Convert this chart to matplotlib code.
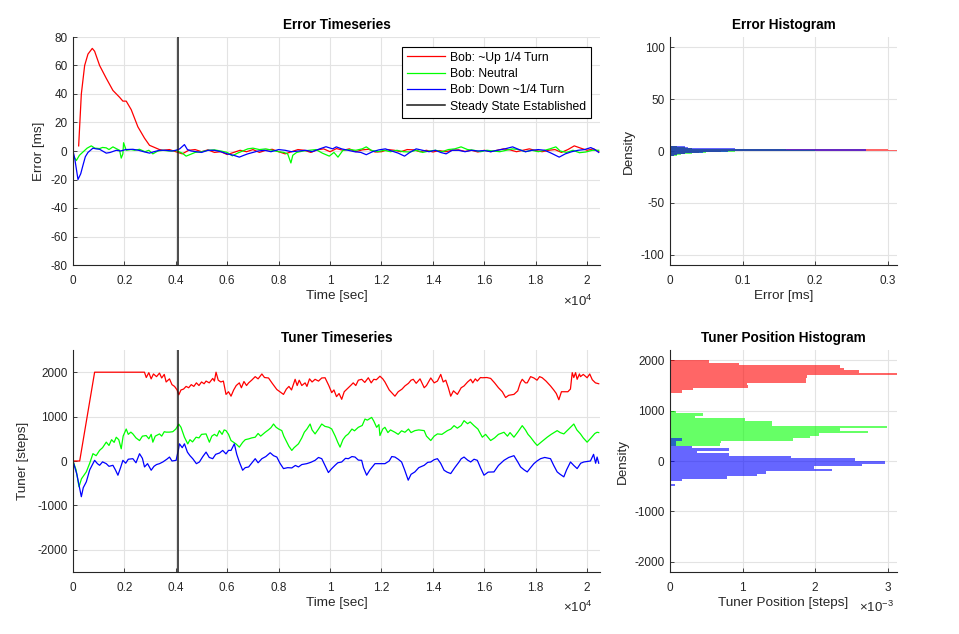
import matplotlib
matplotlib.use("Agg")
import matplotlib.pyplot as plt
import numpy as np

plt.rcParams['font.family'] = ['Liberation Sans', 'DejaVu Sans']
plt.rcParams['mathtext.fontset'] = 'custom'
plt.rcParams['mathtext.rm'] = 'Liberation Sans'
plt.rcParams['mathtext.it'] = 'Liberation Sans'
plt.rcParams['axes.unicode_minus'] = False

# ---------------- data ----------------
series_names = ["Bob: ~Up 1/4 Turn", "Bob: Neutral", "Bob: Down ~1/4 Turn"]
series_colors = ["#ff0000", "#00ff00", "#0000ff"]
steady_state_time = 4100
steady_label = "Steady State Established"

# Error timeseries (ms)
red_err_t = [220, 324, 453, 582, 750, 841, 1035, 1294, 1553, 1812, 1941, 2070, 2265, 2523, 2782, 2976, 3106, 3364,
             3500, 3750, 4000, 4250, 4500, 4750, 5000, 5250, 5500, 5750, 6000, 6250, 6500, 6750, 7000, 7250, 7500,
             7750, 8000, 8250, 8500, 8750, 9000, 9250, 9500, 9750, 10000, 10250, 10500, 10750, 11000, 11250, 11500,
             11750, 12000, 12250, 12500, 12750, 13000, 13250, 13500, 13750, 14000, 14250, 14500, 14750, 15000, 15250,
             15500, 15750, 16000, 16250, 16500, 16750, 17000, 17250, 17500, 17750, 18000, 18250, 18500, 18750, 19000,
             19250, 19500, 19750, 20000, 20250, 20450]
red_err_v = [3.6, 40, 60, 68, 72, 70, 60, 51, 42.5, 37.7, 35, 35, 29, 17, 9, 4, 3, 1,
             0.5, 1, -0.5, -2, 0.5, 1, -0.5, 0.8, -1, -0.5, -2.5, -1, 0.5, -0.5, 1, -1, 0.5,
             1.2, -0.5, -2, -0.5, 1, 0.5, -1, 0.8, 1.5, -0.5, 1.7, 0.5, 1.5, -0.5, 0.8, 1.2,
             -0.7, -0.5, 1, 0.5, -0.5, 1, 0.8, -0.5, 0.5, -0.7, 0.3, -0.5, 0.5, 0.8, -0.3,
             0.5, -0.7, 0.5, -0.5, 0.5, 1.5, 0.8, -0.5, 0.5, 1.5, 0.3, -0.5, 0.5, 1, -1,
             1, 3.6, 2, 0.5, 1.5, -0.5]

green_err_t = [0, 129, 250, 388, 550, 712, 850, 1035, 1150, 1294, 1400, 1553, 1700, 1812, 1876, 1940, 1967, 2070,
               2250, 2400, 2588, 2800, 2950, 3106, 3300, 3500, 3750, 4000, 4250, 4400, 4550, 4750, 5000, 5250, 5500,
               5750, 6000, 6200, 6400, 6600, 6800, 7000, 7250, 7500, 7750, 8000, 8200, 8350, 8476, 8550, 8700, 8950,
               9200, 9450, 9700, 9970, 10150, 10308, 10500, 10750, 11000, 11250, 11408, 11600, 11850, 12100, 12350,
               12600, 12850, 13100, 13350, 13600, 13850, 14100, 14350, 14600, 14850, 15096, 15350, 15600, 15850,
               16100, 16350, 16600, 16850, 17100, 17350, 17600, 17850, 18100, 18350, 18550, 18783, 18950, 19200,
               19450, 19700, 19950, 20200, 20450]
green_err_v = [-3, -6.7, -3, -0.7, 2, 3.6, 2, 1.7, 2.5, 2.2, 1, 2.9, 1.5, 0.5, -5, -2, 5.8, 0.5,
               1, 0.5, 1.2, -0.5, 0.5, -2, 0, 0.5, 0, 0.3, -1.5, -3.6, -2.5, -1, -0.5, 0.5, 0.8,
               0, -1, -3.4, -1.5, 0, 1.5, 2, 1, 1.5, 0.5, -0.5, -1, -2, -8.4, -3, -1, 0,
               0.5, 1, -1.5, -3.6, -1, -4.3, 0.5, 1, 0.5, 1.5, 2.9, 0.5, -0.5, 0.5, -0.5,
               0.5, -0.5, -0.7, 0.5, -1, 0, 0.5, -0.5, 1, 1.5, 2.9, 1, 0.5, -0.5,
               0.5, 0, -0.5, 0.5, 1.5, 1, -0.5, 0.5, -0.5, 0.5, 1.5, 2.9, 0, -1,
               0.5, -1.2, -0.7, 0.5, 0.5]

blue_err_t = [0, 65, 194, 300, 388, 480, 582, 776, 900, 1035, 1150, 1294, 1450, 1682, 1850, 2050, 2329, 2550, 2750,
              2976, 3150, 3364, 3600, 3850, 4000, 4150, 4335, 4450, 4600, 4800, 5000, 5250, 5500, 5750, 6000, 6250,
              6470, 6650, 6800, 7000, 7200, 7450, 7700, 8000, 8250, 8500, 8800, 9050, 9300, 9600, 9840, 10100, 10243,
              10450, 10700, 10950, 11200, 11408, 11650, 11900, 12150, 12400, 12650, 12896, 13100, 13350, 13600,
              13850, 14100, 14300, 14513, 14750, 15000, 15250, 15500, 15750, 16000, 16250, 16500, 16800, 17101,
              17350, 17600, 17850, 18100, 18350, 18600, 18913, 19150, 19400, 19650, 19900, 20142, 20300, 20450]
blue_err_v = [0, -5, -20, -16, -10, -4, -1, 2, 1.5, 1.2, 0, -1.5, -1, 0.5, 0, 1, 1.2, 0.5, -0.5,
              -1.5, -0.5, 0.5, 0.5, 0, 0.5, 1.5, 4.5, 1, 0, -0.5, -1, 0.5, 0.5, -0.5, -2, -3,
              -4.3, -3, -2, -1, 0, 0.5, -0.5, 1, 0.5, -0.5, 0, 0.5, -0.5, 1.5, 3, 1.5, 2.9,
              1.5, 0.5, -0.5, -1, -2.6, -0.5, 0.8, 1.5, 0, -1.5, -3.6, -1, 1.5, 0.5,
              -0.5, 0.5, -1, -2, 0.5, 0.5, -0.5, 0.5, 0, 0.3, -0.5, 0.5, 1.5, 2.9,
              1, -0.5, 0.5, 1, 0.5, -1.5, -4.3, -2, -0.5, 0.5, 1, 2.4, 1, -1]

# Tuner timeseries (steps)
red_tun_t = [0, 260, 841, 2780, 2850, 2950, 3040, 3130, 3250, 3364, 3450, 3550, 3623, 3753, 3850, 3950, 4050, 4115,
             4200, 4300, 4400, 4500, 4600, 4700, 4800, 4900, 5000, 5100, 5176, 5300, 5435, 5500, 5564, 5650, 5750,
             5850, 5952, 6050, 6147, 6250, 6350, 6470, 6550, 6650, 6750, 6832, 6950, 7088, 7200, 7347, 7450, 7605,
             7750, 7929, 8050, 8188, 8300, 8400, 8500, 8641, 8720, 8800, 8900, 9029, 9100, 9200, 9300, 9417, 9550,
             9676, 9805, 9950, 10064, 10150, 10250, 10350, 10452, 10550, 10711, 10800, 10900, 11000, 11100, 11229,
             11350, 11487, 11600, 11700, 11800, 11940, 12050, 12134, 12300, 12523, 12650, 12800, 12911, 13050, 13150,
             13235, 13350, 13500, 13661, 13750, 13850, 13917, 14050, 14176, 14305, 14400, 14500, 14600, 14693, 14800,
             14952, 15100, 15211, 15350, 15470, 15550, 15650, 15728, 15850, 15923, 16100, 16246, 16400, 16550, 16700,
             16828, 16950, 17152, 17300, 17400, 17475, 17600, 17670, 17800, 17928, 18050, 18150, 18252, 18400, 18575,
             18700, 18800, 18899, 19000, 19093, 19250, 19350, 19420, 19481, 19550, 19611, 19700, 19740, 19850, 19999,
             20100, 20200, 20322, 20450]
red_tun_v = [0, 0, 2000, 2000, 1880, 1990, 1850, 1960, 1900, 1980, 1870, 1950, 1780, 1850, 1720, 1680, 1600, 1490,
             1600, 1620, 1680, 1650, 1720, 1680, 1760, 1700, 1780, 1740, 1800, 1760, 1860, 1800, 2000, 1820, 1780,
             1800, 1500, 1560, 1460, 1600, 1700, 1760, 1650, 1790, 1700, 1760, 1820, 1900, 1850, 1960, 1880, 1870,
             1750, 1610, 1560, 1500, 1620, 1680, 1600, 1840, 1700, 1820, 1700, 1760, 1680, 1850, 1780, 1840, 1800,
             1870, 1875, 1700, 1540, 1600, 1450, 1520, 1390, 1560, 1650, 1700, 1760, 1700, 1820, 1840,
             1770, 1875, 1760, 1840, 1830, 1910, 1850, 1780, 1600, 1460, 1560, 1620, 1690, 1750, 1820,
             1840, 1750, 1850, 1650, 1700, 1800, 1870, 1760, 1800, 1950, 1780, 1820, 1650, 1460, 1580,
             1500, 1650, 1690, 1780, 1840, 1760, 1850, 1800, 1880, 1875, 1880, 1860, 1760, 1650, 1560,
             1430, 1480, 1500, 1580, 1760, 1840, 1760, 1760, 1900, 1870, 1820, 1900, 1875, 1800, 1690,
             1600, 1520, 1380, 1560, 1560, 1560, 1620, 1990, 1880, 1990, 1840, 1960, 1900, 1950, 1875,
             1960, 1830, 1760, 1740]

green_tun_t = [0, 120, 233, 330, 450, 518, 650, 776, 900, 1035, 1150, 1294, 1400, 1500, 1600, 1682, 1780, 1876, 1950,
               2070, 2150, 2250, 2329, 2450, 2588, 2700, 2847, 2950, 3041, 3106, 3200, 3364, 3450, 3550, 3623, 3750,
               3882, 4000, 4115, 4200, 4335, 4464, 4550, 4650, 4788, 4900, 5000, 5176, 5250, 5305, 5400, 5500, 5600,
               5694, 5800, 5880, 5952, 6050, 6147, 6250, 6350, 6470, 6600, 6700, 6832, 6950, 7088, 7200, 7300, 7476,
               7600, 7700, 7800, 7900, 8000, 8123, 8200, 8317, 8400, 8511, 8600, 8770, 8900, 9000, 9100, 9223, 9300,
               9417, 9550, 9676, 9800, 9950, 10064, 10200, 10300, 10388, 10500, 10600, 10711, 10850, 10950, 11099,
               11250, 11358, 11450, 11617, 11700, 11811, 11900, 11940, 12050, 12134, 12250, 12350, 12523, 12650,
               12780, 12911, 13050, 13150, 13299, 13450, 13661, 13750, 13917, 14050, 14176, 14350, 14564, 14700,
               14823, 14950, 15100, 15211, 15350, 15450, 15599, 15750, 15923, 16050, 16246, 16400, 16550, 16764,
               16900, 17000, 17152, 17300, 17475, 17600, 17700, 17799, 17950, 18058, 18200, 18446, 18600, 18834,
               18950, 19093, 19250, 19350, 19481, 19600, 19740, 19850, 19999, 20150, 20300, 20387, 20450]
green_tun_v = [0, -200, -580, -400, -300, -245, -50, 165, 120, 240, 300, 425, 350, 480, 420, 535, 480, 275, 560,
               720, 600, 650, 610, 520, 460, 560, 573, 500, 600, 424, 560, 610, 560, 660, 650, 650,
               660, 720, 830, 760, 536, 385, 480, 430, 536, 520, 600, 610, 500, 424, 560, 600, 560,
               684, 600, 700, 684, 600, 461, 420, 380, 312, 420, 480, 498, 520, 536, 620, 560, 647,
               700, 750, 833, 760, 720, 684, 560, 424, 330, 238, 300, 387, 520, 650, 720, 833, 700,
               610, 720, 833, 780, 760, 722, 560, 420, 312, 480, 560, 610, 720, 680, 759,
               800, 945, 920, 982, 900, 759, 820, 573, 720, 759, 640, 700, 647, 600,
               680, 647, 720, 640, 684, 700, 684, 560, 461, 560, 610, 600, 684, 720,
               796, 740, 800, 908, 840, 880, 796, 720, 536, 600, 461, 520, 600, 647,
               560, 640, 536, 650, 796, 700, 600, 536, 420, 350, 420, 536, 600, 684,
               640, 610, 700, 760, 833, 700, 610, 520, 424, 520, 620, 647, 640]

blue_tun_t = [0, 150, 324, 400, 518, 650, 841, 950, 1035, 1150, 1294, 1400, 1553, 1650, 1747, 1850, 1941, 2050, 2150,
              2329, 2450, 2588, 2700, 2782, 2900, 3041, 3150, 3250, 3364, 3500, 3650, 3753, 3850, 4011, 4100, 4141,
              4250, 4335, 4450, 4550, 4658, 4800, 4917, 5050, 5176, 5300, 5435, 5550, 5700, 5823, 5950, 6050, 6147,
              6276, 6370, 6470, 6599, 6700, 6832, 6950, 7088, 7200, 7347, 7500, 7670, 7800, 7929, 8050, 8188, 8350,
              8511, 8650, 8770, 8900, 9093, 9250, 9417, 9550, 9676, 9800, 9935, 10050, 10193, 10300, 10452, 10600,
              10711, 10850, 10970, 11100, 11229, 11300, 11423, 11550, 11746, 11950, 12134, 12300, 12400, 12523,
              12650, 12782, 12900, 13040, 13150, 13299, 13450, 13661, 13800, 13917, 14050, 14176, 14300, 14434,
              14550, 14693, 14850, 15017, 15100, 15211, 15350, 15470, 15600, 15728, 15850, 15987, 16150, 16375,
              16550, 16764, 16950, 17152, 17300, 17411, 17550, 17670, 17800, 17928, 18050, 18187, 18350, 18575,
              18700, 18834, 18950, 19093, 19200, 19352, 19480, 19611, 19750, 19870, 20000, 20128, 20250, 20330,
              20387, 20450]
blue_tun_v = [0, -300, -804, -600, -469, -200, 15, -60, -97, -20, -60, -120, -97, -200, -320, -150, 15, -50, 40,
              52, -40, 164, 60, -134, -60, -208, -120, -80, -60, -20, 40, 89, 0, 15, 250, 387,
              300, 387, 200, 120, 52, -60, -22, 100, 200, 80, 52, 150, 180, 238, 160, 240, 238,
              387, 150, -22, -208, -150, -134, -50, 52, -40, 52, 100, 186, 120, 89, -50, -171, -150,
              -156, -100, -134, -80, -60, -30, 15, 80, 52, -100, -260, -180, -97, -40, -22, 60,
              52, 100, 89, 20, 15, -150, -320, -200, -60, -60, -60, 0, 100, 89,
              40, -22, -200, -432, -300, -246, -150, -97, -30, -22, 30, 52, -50, -208,
              -250, -283, -150, -22, 50, 89, 20, -22, 40, 15, -150, -320, -250, -246,
              -100, 15, 80, 120, -20, -134, -200, -246, -150, -60, 0, 52, 80, 52,
              -100, -246, -300, -357, -200, -22, -100, -171, -50, -22, -10, 0, 150, -50,
              89, -50]

# Error histogram (density per 1 ms bin)
err_bin_centers = [-4.5, -3.5, -2.5, -1.5, -0.5, 0.5, 1.5, 2.5, 3.5, 4.5]
err_bin_width = 1.0
red_err_density = [0.005, 0.01, 0.02, 0.04, 0.07, 0.33, 0.30, 0.03, 0.02, 0.01]
green_err_density = [0.01, 0.015, 0.03, 0.05, 0.09, 0.20, 0.16, 0.03, 0.02, 0.01]
blue_err_density = [0.005, 0.01, 0.02, 0.045, 0.08, 0.27, 0.27, 0.09, 0.025, 0.02]

# Tuner position histogram (density per 50-step bin)
tun_bin_width = 50
red_tun_centers = [1975, 1925, 1875, 1825, 1775, 1725, 1675, 1625, 1575, 1525, 1475, 1425, 1375]
red_tun_density = [0.54e-3, 0.95e-3, 2.34e-3, 2.40e-3, 2.61e-3, 3.3e-3, 1.89e-3, 1.88e-3, 1.87e-3, 1.06e-3,
                   1.07e-3, 0.32e-3, 0.17e-3]
green_tun_centers = [975, 925, 875, 825, 775, 725, 675, 625, 575, 525, 475, 425, 375, 325]
green_tun_density = [0.083e-3, 0.46e-3, 0.35e-3, 1.04e-3, 1.40e-3, 1.40e-3, 2.99e-3, 2.34e-3, 2.73e-3, 2.05e-3,
                     1.93e-3, 1.70e-3, 0.70e-3, 0.69e-3]
blue_tun_centers = [425, 375, 325, 275, 225, 175, 125, 75, 25, -25, -75, -125, -175, -225, -275, -325, -375, -425,
                    -475]
blue_tun_density = [0.16e-3, 0.08e-3, 0.08e-3, 0.30e-3, 0.81e-3, 0.37e-3, 0.81e-3, 1.67e-3, 2.55e-3, 2.97e-3,
                    2.65e-3, 1.99e-3, 2.23e-3, 1.33e-3, 1.20e-3, 0.79e-3, 0.16e-3, 0.0, 0.07e-3]

time_ticks = [0, 2000, 4000, 6000, 8000, 10000, 12000, 14000, 16000, 18000, 20000]
time_tick_labels = ["0", "0.2", "0.4", "0.6", "0.8", "1", "1.2", "1.4", "1.6", "1.8", "2"]

# ---------------- styling helpers ----------------
AX_COL = "#262626"
GRID_COL = "#e3e3e3"
TICK_FS = 8.5
LABEL_FS = 9.7
TITLE_FS = 9.8


def style(ax):
    for s in ["top", "right"]:
        ax.spines[s].set_visible(False)
    for s in ["left", "bottom"]:
        ax.spines[s].set_color(AX_COL)
        ax.spines[s].set_linewidth(0.8)
    ax.tick_params(direction="in", length=3, width=0.6, colors=AX_COL, labelsize=TICK_FS)
    ax.tick_params(axis="x", pad=7.5)
    ax.tick_params(axis="y", pad=4)
    ax.grid(True, color=GRID_COL, linewidth=0.8)
    ax.set_axisbelow(True)


fig = plt.figure(figsize=(9.59, 6.34), dpi=100)
W, H = 959, 634


def pos(l, t, r, b):
    return [l / W, 1 - b / H, (r - l) / W, (b - t) / H]


ax_et = fig.add_axes(pos(73, 37, 600, 265))
ax_eh = fig.add_axes(pos(670, 37, 897, 265))
ax_tt = fig.add_axes(pos(73, 350, 600, 572))
ax_th = fig.add_axes(pos(670, 350, 897, 572))

# Error timeseries
err_t = [red_err_t, green_err_t, blue_err_t]
err_v = [red_err_v, green_err_v, blue_err_v]
for t, v, c, n in zip(err_t, err_v, series_colors, series_names):
    ax_et.plot(t, v, color=c, lw=0.9, label=n)
ax_et.axvline(steady_state_time, color="#1a1a1a", lw=1.1, label=steady_label)
ax_et.set_xlim(0, 20500)
ax_et.set_ylim(-80, 80)
ax_et.set_yticks(np.arange(-80, 81, 20))
ax_et.set_xticks(time_ticks)
ax_et.set_xticklabels(time_tick_labels)
style(ax_et)
ax_et.set_title("Error Timeseries", fontsize=TITLE_FS, fontweight="bold", color="k", pad=6)
ax_et.set_xlabel("Time [sec]", fontsize=LABEL_FS, color=AX_COL, labelpad=2)
ax_et.set_ylabel("Error [ms]", fontsize=LABEL_FS, color=AX_COL, labelpad=4)
ax_et.text(0.985, -0.125, r"$\times10^{4}$", transform=ax_et.transAxes, ha="right", va="top",
           fontsize=9.5, color=AX_COL)
leg = ax_et.legend(loc="upper right", bbox_to_anchor=(0.982, 0.957), fontsize=8.7, fancybox=False,
                   edgecolor="k", framealpha=1, handlelength=3.2, borderpad=0.4, labelspacing=0.36,
                   handletextpad=0.35, borderaxespad=0)
leg.get_frame().set_linewidth(0.8)

# Tuner timeseries
tun_t = [red_tun_t, green_tun_t, blue_tun_t]
tun_v = [red_tun_v, green_tun_v, blue_tun_v]
for t, v, c in zip(tun_t, tun_v, series_colors):
    ax_tt.plot(t, v, color=c, lw=0.9)
ax_tt.axvline(steady_state_time, color="#1a1a1a", lw=1.1)
ax_tt.set_xlim(0, 20500)
ax_tt.set_ylim(-2500, 2500)
ax_tt.set_yticks(np.arange(-2000, 2001, 1000))
ax_tt.set_xticks(time_ticks)
ax_tt.set_xticklabels(time_tick_labels)
style(ax_tt)
ax_tt.set_title("Tuner Timeseries", fontsize=TITLE_FS, fontweight="bold", color="k", pad=6)
ax_tt.set_xlabel("Time [sec]", fontsize=LABEL_FS, color=AX_COL, labelpad=2)
ax_tt.set_ylabel("Tuner [steps]", fontsize=LABEL_FS, color=AX_COL, labelpad=6)
ax_tt.text(0.985, -0.125, r"$\times10^{4}$", transform=ax_tt.transAxes, ha="right", va="top",
           fontsize=9.5, color=AX_COL)

# Error histogram
for dens, c in zip([red_err_density, green_err_density, blue_err_density], series_colors):
    ax_eh.barh(err_bin_centers, dens, height=err_bin_width, color=c, alpha=0.6, linewidth=0)
ax_eh.set_xlim(0, 0.313)
ax_eh.set_ylim(-110, 110)
ax_eh.set_xticks([0, 0.1, 0.2, 0.3])
ax_eh.set_xticklabels(["0", "0.1", "0.2", "0.3"])
ax_eh.set_yticks([-100, -50, 0, 50, 100])
style(ax_eh)
ax_eh.set_title("Error Histogram", fontsize=TITLE_FS, fontweight="bold", color="k", pad=6)
ax_eh.set_xlabel("Error [ms]", fontsize=LABEL_FS, color=AX_COL, labelpad=2)
ax_eh.set_ylabel("Density", fontsize=LABEL_FS, color=AX_COL, labelpad=4)

# Tuner histogram
for cen, dens, c in zip([red_tun_centers, green_tun_centers, blue_tun_centers],
                        [red_tun_density, green_tun_density, blue_tun_density], series_colors):
    ax_th.barh(cen, dens, height=tun_bin_width, color=c, alpha=0.6, linewidth=0)
ax_th.set_xlim(0, 3.13e-3)
ax_th.set_ylim(-2200, 2200)
ax_th.set_xticks([0, 1e-3, 2e-3, 3e-3])
ax_th.set_xticklabels(["0", "1", "2", "3"])
ax_th.set_yticks(np.arange(-2000, 2001, 1000))
style(ax_th)
ax_th.set_title("Tuner Position Histogram", fontsize=TITLE_FS, fontweight="bold", color="k", pad=6)
ax_th.set_xlabel("Tuner Position [steps]", fontsize=LABEL_FS, color=AX_COL, labelpad=2)
ax_th.set_ylabel("Density", fontsize=LABEL_FS, color=AX_COL, labelpad=4)
ax_th.text(0.985, -0.125, r"$\times10^{-3}$", transform=ax_th.transAxes, ha="right", va="top",
           fontsize=9.5, color=AX_COL)

fig.savefig("out.png", dpi=100)
